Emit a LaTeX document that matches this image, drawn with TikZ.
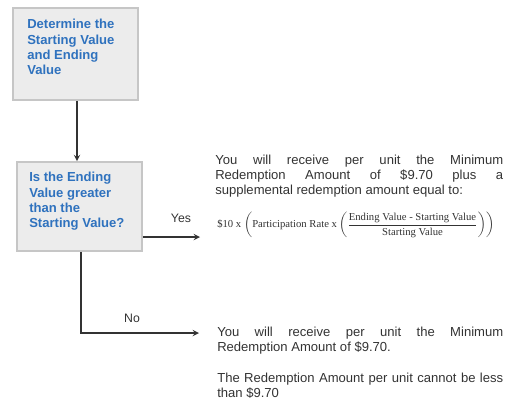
\documentclass[tikz,border=0pt]{standalone}
\usepackage{amsmath}
\usepackage{fontspec}
\setmainfont{Liberation Sans}
\newfontfamily\timesfont{Liberation Serif}
\definecolor{boxfill}{HTML}{ECECEC}
\definecolor{boxline}{HTML}{C6C6C6}
\definecolor{boxtext}{HTML}{2F72BE}
\definecolor{flowline}{HTML}{333333}
\hbadness=10000
\tikzset {>=stealth}
\tikzset{
  stepbox/.style={draw=boxline,fill=boxfill,line width=1.2pt,inner sep=0pt},
  steptext/.style={anchor=north west,inner sep=0pt,align=left,text=boxtext,
    font=\fontsize{9.8}{11.5}\selectfont\bfseries},
  flow/.style={draw=flowline,line width=1.1pt},
  outcome/.style={anchor=north west,inner sep=0pt,align=justify,
    text=black!80,font=\fontsize{9.8}{11}\selectfont},
  branch/.style={inner sep=0pt,text=black!80,font=\fontsize{9.2}{11}\selectfont}
}

\begin{document}
\begin{tikzpicture}[x=0.75pt,y=-0.75pt]
\useasboundingbox (0,0) rectangle (519,401);
\node[stepbox,minimum width=93.75pt,minimum height=69pt] (determine) at (75.5,54) {};
\node[steptext] (determinetext) at (27,19) {Determine the\\Starting Value\\and Ending\\Value};
\node[stepbox,minimum width=93.75pt,minimum height=66.75pt] (compare) at (79.5,206.5) {};
\node[steptext] (comparetext) at (29,172) {Is the Ending\\Value greater\\than the\\Starting Value?};
\coordinate (down) at (77,0);
\draw[flow,->] (determine.south -| down) -- (compare.north -| down);
% yes branch
\coordinate (yesend) at (200,237);
\draw[flow,->] (compare.east |- yesend) -- (yesend);
\node[branch] (yeslabel) at (181,218) {Yes};
\node[outcome,text width=216pt] (yestext) at (215,155) {You will receive per unit the Minimum\linebreak Redemption Amount of \$9.70 plus a\linebreak supplemental redemption amount equal to:};
\node[anchor=west,inner sep=0pt,text=black!80,font=\timesfont\fontsize{8}{9.6}\selectfont] (formula) at (217,225)
  {\$10 x $\left(\text{Participation Rate x}\left(\dfrac{\text{Ending Value - Starting Value}}{\text{Starting Value}}\right)\right)$};
% no branch
\coordinate (nocorner) at (81,333);
\coordinate (noend) at (199,333);
\draw[flow,->] (compare.south -| nocorner) -- (nocorner) -- (noend);
\node[branch] (nolabel) at (132,318) {No};
\node[outcome,text width=214.5pt] (notext) at (217,327) {You will receive per unit the Minimum\linebreak Redemption Amount of \$9.70.\par\vspace{12.25pt}The Redemption Amount per unit cannot be less than \$9.70};
\end{tikzpicture}
\end{document}
